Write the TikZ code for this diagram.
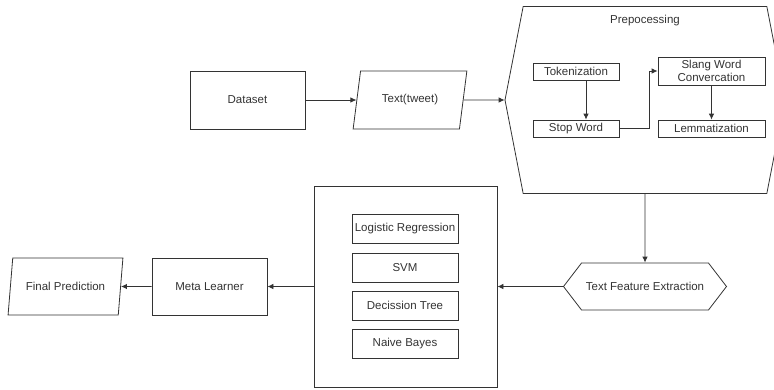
\documentclass[tikz,border=0pt]{standalone}
\usepackage{fontspec}
\setmainfont{Liberation Sans}
\usetikzlibrary{shapes.geometric,shapes.symbols,arrows.meta}

\begin{document}
\begin{tikzpicture}[x=1pt,y=-1pt,>={Latex[length=6pt,width=5.5pt]},
        every node/.style={font=\fontsize{11.5}{13.5}\selectfont, text=black!80, inner sep=1pt},
        block/.style={draw=black!80, line width=0.8pt, minimum width=115pt, minimum height=57pt},
        io/.style={trapezium, trapezium left angle=71, trapezium right angle=109, trapezium stretches=true,
            draw=black!80, line width=0.8pt, minimum width=115pt, minimum height=57pt},
        hexa/.style={signal, signal to=west and east, draw=black!80, line width=0.8pt},
        inbox/.style={draw=black!80, line width=0.8pt, align=center},
        flow/.style={->, draw=black!80, line width=0.8pt}]
        \useasboundingbox (0,0) rectangle (774,389);
        \node[block, minimum height=58pt] (dataset) at (247.5,100) {Dataset};
        \node[io, minimum width=114pt, minimum height=58pt] (tweet) at (410,100) {Text(tweet)};
        \node[hexa, signal pointer angle=158, minimum width=280pt, minimum height=187pt] (prep) at (645,100) {};
        \node (preptitle) at (645,21) {Prepocessing};
        \node[inbox, minimum width=86pt, minimum height=17pt] (token) at (576,71.5) {Tokenization};
        \node[inbox, minimum width=86pt, minimum height=17pt] (stopword) at (576,128.5) {Stop Word};
        \node[inbox, minimum width=107pt, minimum height=28pt] (slang) at (711.5,71) {Slang Word\\Convercation};
        \node[inbox, minimum width=107pt, minimum height=17pt] (lemma) at (711.5,128.5) {Lemmatization};
        \node[hexa, signal pointer angle=105, minimum width=163pt, minimum height=47pt] (feature) at (645,286.5) {Text Feature Extraction};
        \node[block, minimum width=183pt, minimum height=201pt] (models) at (405.5,286.5) {};
        \node[inbox, minimum width=106pt, minimum height=29pt] (logreg) at (405,228.5) {Logistic Regression};
        \node[inbox, minimum width=106pt, minimum height=29pt] (svm) at (405,267.5) {SVM};
        \node[inbox, minimum width=106pt, minimum height=29pt] (dtree) at (405,305.5) {Decission Tree};
        \node[inbox, minimum width=106pt, minimum height=29pt] (nbayes) at (405,343.5) {Naive Bayes};
        \node[block] (meta) at (209.5,286.5) {Meta Learner};
        \node[io] (final) at (65.5,286.5) {Final Prediction};
        \draw[flow] (dataset) -- (tweet);
        \draw[flow] (tweet) -- (prep);
        \draw[flow] ([xshift=10pt]token.south) -- ([xshift=10pt]stopword.north);
        \draw[flow] (stopword.east) -- ++(30,0) |- (slang.west);
        \draw[flow] (slang) -- (lemma);
        \draw[flow] (prep) -- (feature);
        \draw[flow] (feature) -- (models);
        \draw[flow] (models) -- (meta);
        \draw[flow] (meta) -- (final);
    \end{tikzpicture}
\end{document}
